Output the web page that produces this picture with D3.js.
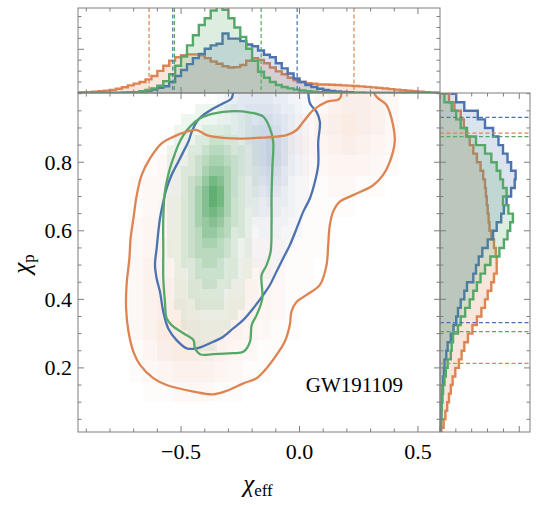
<!DOCTYPE html>
<html>
<head>
<meta charset="utf-8">
<script src="https://cdn.jsdelivr.net/npm/d3@7"></script>
<style>
  body { margin: 0; background: #fff; }
  text { font-family: "Liberation Serif", "Times New Roman", "DejaVu Serif", serif; fill: #000; }
</style>
</head>
<body>
<svg id="fig" width="540" height="505"></svg>
<script>
// axis limits and ticks
var xLim = [-0.935, 0.593];
var yLim = [0.013, 1.002];
var xMajor = [-0.5, 0.0, 0.5];
var xLabels = ["\u22120.5", "0.0", "0.5"];
var xMinor = [-0.9, -0.8, -0.7, -0.6, -0.4, -0.3, -0.2, -0.1, 0.1, 0.2, 0.3, 0.4];
var yMajor = [0.2, 0.4, 0.6, 0.8];
var yLabels = ["0.2", "0.4", "0.6", "0.8"];
var yMinor = [0.05, 0.1, 0.15, 0.25, 0.3, 0.35, 0.45, 0.5, 0.55, 0.65, 0.7, 0.75, 0.85, 0.9, 0.95, 1.0];
var topMajor = [0, 0.514];
var topMinor = [0.1285, 0.257, 0.3855, 0.6425, 0.771, 0.8995];
var rightMajor = [0, 0.881];
var rightMinor = [0.176, 0.352, 0.528, 0.705];

var colors = { blue: "#4C72B0", orange: "#DD8452", green: "#55A868" };

// chi_eff histograms (bins of 0.025 starting at -0.95), height as fraction of panel
var topBinStart = -0.95, topBinWidth = 0.025;
var orangeTop = [0.003,0.006,0.01,0.015,0.02,0.028,0.036,0.05,0.068,0.09,0.11,0.13,0.16,0.2,0.26,0.32,0.38,0.42,0.445,0.455,0.455,0.445,0.41,0.37,0.345,0.315,0.3,0.305,0.33,0.38,0.41,0.39,0.35,0.3,0.255,0.22,0.18,0.15,0.13,0.115,0.108,0.1,0.1,0.097,0.094,0.09,0.087,0.083,0.078,0.072,0.066,0.06,0.053,0.046,0.04,0.033,0.026,0.02,0.015,0.01,0.005,0.002];
var blueTop = [0,0,0,0,0,0,0,0.002,0.004,0.007,0.01,0.015,0.025,0.04,0.06,0.08,0.13,0.2,0.27,0.34,0.41,0.46,0.52,0.56,0.58,0.7,0.64,0.64,0.61,0.57,0.55,0.5,0.45,0.42,0.35,0.29,0.23,0.17,0.13,0.095,0.07,0.05,0.035,0.025,0.018,0.012,0.008,0.005,0.003,0,0,0,0,0,0,0,0,0,0,0,0,0];
var greenTop = [0,0,0,0,0,0,0,0,0.003,0.006,0.01,0.02,0.035,0.055,0.085,0.14,0.22,0.32,0.43,0.56,0.68,0.8,0.88,0.97,1.05,0.98,0.88,0.77,0.66,0.52,0.38,0.25,0.18,0.13,0.095,0.07,0.055,0.04,0.03,0.02,0.014,0.01,0.008,0.005,0.003,0,0,0,0,0,0,0,0,0,0,0,0,0,0,0,0,0];

// chi_p histograms (bins of 0.025 starting at 0)
var rightBinStart = 0, rightBinWidth = 0.025;
var orangeRight = [0.015,0.04,0.06,0.08,0.1,0.12,0.14,0.17,0.21,0.24,0.27,0.31,0.36,0.41,0.46,0.5,0.53,0.57,0.6,0.63,0.63,0.62,0.6,0.57,0.55,0.54,0.53,0.52,0.51,0.5,0.48,0.45,0.41,0.37,0.33,0.29,0.265,0.23,0.16,0.1,0.06];
var blueRight = [0.008,0.01,0.013,0.017,0.022,0.028,0.033,0.045,0.05,0.07,0.085,0.12,0.15,0.18,0.2,0.23,0.27,0.3,0.37,0.4,0.43,0.47,0.53,0.59,0.63,0.68,0.71,0.74,0.79,0.83,0.84,0.79,0.75,0.7,0.65,0.59,0.5,0.42,0.27,0.18,0.13];
var greenRight = [0.008,0.012,0.016,0.02,0.026,0.034,0.05,0.065,0.085,0.12,0.13,0.145,0.2,0.23,0.28,0.33,0.37,0.41,0.45,0.5,0.56,0.66,0.71,0.75,0.78,0.81,0.76,0.7,0.74,0.7,0.67,0.63,0.57,0.5,0.4,0.3,0.23,0.18,0.13,0.05,0.03];

// 90% interval bounds
var topQuant = { orange: [-0.635, 0.23], blue: [-0.535, -0.01], green: [-0.528, -0.162] };
var rightQuant = { orange: [0.213, 0.885], blue: [0.332, 0.931], green: [0.306, 0.875] };

// 2d density cells (level 0-9 per cell)
var greenCell = { x0: -0.59, top: 0.97, dx: 0.03, dy: 0.03, maxOp: 0.92 };
var greenRows = [
  "0000011111100000","0001111111111000","0011112222111100","0011122332211100",
  "0111223443221100","0111234554321100","0112235665321100","0112346875321100",
  "0112357985321100","0112357985321100","0112357875321100","0112356764321000",
  "0112346654221000","0112345543211000","0112344443211000","0012234432211000",
  "0011233332211000","0011223322110000","0011222221110000","0011122221110000",
  "0001111111100000","0001111111000000","0000111110000000","0000011100000000"];
var blueCell = { x0: -0.35, top: 1.0, dx: 0.03, dy: 0.03, maxOp: 0.36 };
var blueRows = [
  "12344444332210","12345555433210","11234566543210","01234577643210",
  "01124578753210","01123578753210","00123578753210","00123467643210",
  "00112456542110","00112345432110","00012234332110","00011233322100",
  "00011222221100","00011122211100","00001111111000","00001111110000",
  "00000111100000","00000011000000"];
var orangeCell = { x0: -0.78, top: 1.0, dx: 0.06, dy: 0.06, maxOp: 0.24 };
var orangeRows = [
  "00000000000000245542","00000000000012456542","00011111111123345432",
  "00122211111112233321","01222211111111122110","01233211111111111000",
  "02333211111111100000","02343211122211100000","02443211233211000000",
  "02454322343211000000","02455433443210000000","02466544432110000000",
  "01356654321100000000","01234443211000000000","00112221100000000000"];

// 90% contours [chi_eff, chi_p]
var greenContour = [[-0.42,0.928],[-0.364,0.942],[-0.28,0.949],[-0.209,0.945],[-0.153,0.933],[-0.125,0.899],[-0.111,0.86],[-0.114,0.792],[-0.118,0.704],[-0.118,0.617],[-0.122,0.539],[-0.139,0.5],[-0.16,0.471],[-0.157,0.403],[-0.181,0.354],[-0.202,0.325],[-0.209,0.277],[-0.237,0.247],[-0.28,0.243],[-0.364,0.24],[-0.42,0.24],[-0.441,0.257],[-0.448,0.281],[-0.49,0.301],[-0.54,0.325],[-0.561,0.345],[-0.568,0.393],[-0.575,0.461],[-0.575,0.539],[-0.575,0.636],[-0.568,0.714],[-0.547,0.782],[-0.533,0.811],[-0.512,0.85],[-0.49,0.879],[-0.462,0.904]];
var blueContour = [[-0.28,1.03],[-0.287,0.986],[-0.322,0.972],[-0.364,0.957],[-0.406,0.938],[-0.434,0.918],[-0.455,0.889],[-0.469,0.86],[-0.49,0.831],[-0.512,0.801],[-0.54,0.763],[-0.561,0.724],[-0.575,0.685],[-0.589,0.636],[-0.596,0.597],[-0.603,0.549],[-0.61,0.5],[-0.603,0.461],[-0.589,0.422],[-0.575,0.364],[-0.554,0.315],[-0.519,0.281],[-0.476,0.257],[-0.434,0.257],[-0.378,0.272],[-0.322,0.291],[-0.28,0.315],[-0.237,0.34],[-0.195,0.374],[-0.153,0.413],[-0.125,0.442],[-0.097,0.481],[-0.069,0.52],[-0.041,0.558],[-0.012,0.607],[0.016,0.656],[0.044,0.695],[0.065,0.743],[0.079,0.792],[0.079,0.86],[0.086,0.918],[0.072,0.947],[0.044,0.972],[0.037,1.03]];
var orangeContour = [[0.177,1.03],[0.17,0.986],[0.114,0.976],[0.058,0.952],[0.016,0.918],[-0.012,0.894],[-0.055,0.879],[-0.111,0.874],[-0.181,0.871],[-0.252,0.869],[-0.322,0.871],[-0.392,0.879],[-0.434,0.894],[-0.476,0.889],[-0.533,0.874],[-0.582,0.855],[-0.631,0.811],[-0.666,0.763],[-0.687,0.704],[-0.701,0.636],[-0.713,0.578],[-0.718,0.52],[-0.73,0.442],[-0.732,0.374],[-0.722,0.306],[-0.701,0.247],[-0.673,0.209],[-0.617,0.17],[-0.561,0.15],[-0.448,0.131],[-0.364,0.123],[-0.308,0.133],[-0.237,0.155],[-0.181,0.17],[-0.139,0.199],[-0.097,0.238],[-0.062,0.277],[-0.041,0.325],[-0.034,0.364],[-0.012,0.393],[0.03,0.413],[0.086,0.442],[0.114,0.5],[0.121,0.558],[0.128,0.617],[0.142,0.656],[0.17,0.685],[0.226,0.704],[0.311,0.733],[0.353,0.763],[0.381,0.801],[0.402,0.86],[0.395,0.908],[0.367,0.967],[0.325,0.991],[0.297,1.03]];

var eventName = "GW191109";

// layout
var L = 78, R = 440, T = 93, B = 432, topT = 8, rightR = 530;
var serif = "'Liberation Serif', 'Times New Roman', 'DejaVu Serif', serif";
var svg = d3.select("#fig");
var x = d3.scaleLinear().domain(xLim).range([L, R]);
var y = d3.scaleLinear().domain(yLim).range([B, T]);
var hTop = d3.scaleLinear().domain([0, 1]).range([T, topT]);
var hRight = d3.scaleLinear().domain([0, 1]).range([R, rightR]);

var defs = svg.append("defs");
function clip(id, x0, y0, w, h) {
  defs.append("clipPath").attr("id", id).append("rect")
    .attr("x", x0).attr("y", y0).attr("width", w).attr("height", h);
}
clip("cMain", L, T, R - L, B - T);
clip("cTop", L, topT, R - L, T - topT);
clip("cRight", R, T, rightR - R, B - T);

// ---- main panel
var main = svg.append("g").attr("clip-path", "url(#cMain)");

function drawCells(rows, cell, color) {
  var g = main.append("g").attr("shape-rendering", "crispEdges");
  rows.forEach(function(row, r) {
    row.split("").forEach(function(ch, c) {
      var lv = +ch;
      if (!lv) return;
      var x0 = Math.round(x(cell.x0 + c * cell.dx)), x1 = Math.round(x(cell.x0 + (c + 1) * cell.dx));
      var y0 = Math.round(y(cell.top - r * cell.dy)), y1 = Math.round(y(cell.top - (r + 1) * cell.dy));
      g.append("rect").attr("x", x0).attr("y", y0)
        .attr("width", x1 - x0).attr("height", y1 - y0)
        .attr("fill", color).attr("fill-opacity", cell.maxOp * lv / 9);
    });
  });
}
drawCells(orangeRows, orangeCell, colors.orange);
drawCells(blueRows, blueCell, colors.blue);
drawCells(greenRows, greenCell, colors.green);

var lineOpen = d3.line().x(d => x(d[0])).y(d => y(d[1])).curve(d3.curveCatmullRom);
var lineClosed = d3.line().x(d => x(d[0])).y(d => y(d[1])).curve(d3.curveCatmullRomClosed);
main.append("path").attr("d", lineOpen(blueContour)).attr("fill", "none")
  .attr("stroke", colors.blue).attr("stroke-width", 2.3);
main.append("path").attr("d", lineClosed(greenContour)).attr("fill", "none")
  .attr("stroke", colors.green).attr("stroke-width", 2.3);
main.append("path").attr("d", lineOpen(orangeContour)).attr("fill", "none")
  .attr("stroke", colors.orange).attr("stroke-width", 2.3);

svg.append("text").attr("x", 403).attr("y", 392).attr("text-anchor", "end")
  .style("font-family", serif).attr("font-size", 21).text(eventName);

// ---- top marginal
var topG = svg.append("g").attr("clip-path", "url(#cTop)");
function topPts(vals) {
  var pts = [[topBinStart, 0]];
  vals.forEach(function(v, i) {
    pts.push([topBinStart + i * topBinWidth, v]);
    pts.push([topBinStart + (i + 1) * topBinWidth, v]);
  });
  pts.push([topBinStart + vals.length * topBinWidth, 0]);
  return pts;
}
var topLine = d3.line().x(d => x(d[0])).y(d => hTop(d[1]));
[["orange", orangeTop], ["blue", blueTop], ["green", greenTop]].forEach(function(s) {
  var p = topLine(topPts(s[1]));
  topG.append("path").attr("d", p + "Z").attr("fill", colors[s[0]]).attr("fill-opacity", 0.2);
  topG.append("path").attr("d", p).attr("fill", "none").attr("stroke", colors[s[0]])
    .attr("stroke-width", 2.4);
});
["orange", "blue", "green"].forEach(function(k) {
  topQuant[k].forEach(function(v) {
    topG.append("line").attr("x1", x(v)).attr("x2", x(v)).attr("y1", topT).attr("y2", T)
      .attr("stroke", colors[k]).attr("stroke-width", 1.2).attr("stroke-dasharray", "4,2.5");
  });
});

// ---- right marginal
var rightG = svg.append("g").attr("clip-path", "url(#cRight)");
function rightPts(vals) {
  var pts = [[0, rightBinStart]];
  vals.forEach(function(v, i) {
    pts.push([v, rightBinStart + i * rightBinWidth]);
    pts.push([v, rightBinStart + (i + 1) * rightBinWidth]);
  });
  pts.push([0, rightBinStart + vals.length * rightBinWidth]);
  return pts;
}
var rightLine = d3.line().x(d => hRight(d[0])).y(d => y(d[1]));
[["orange", orangeRight], ["blue", blueRight], ["green", greenRight]].forEach(function(s) {
  var p = rightLine(rightPts(s[1]));
  rightG.append("path").attr("d", p + "Z").attr("fill", colors[s[0]]).attr("fill-opacity", 0.2);
  rightG.append("path").attr("d", p).attr("fill", "none").attr("stroke", colors[s[0]])
    .attr("stroke-width", 2.4);
});
["orange", "blue", "green"].forEach(function(k) {
  rightQuant[k].forEach(function(v) {
    rightG.append("line").attr("y1", y(v)).attr("y2", y(v)).attr("x1", R).attr("x2", rightR)
      .attr("stroke", colors[k]).attr("stroke-width", 1.2).attr("stroke-dasharray", "4,2.5");
  });
});

// ---- frames and ticks
var frameColor = "#7f7f7f";
var axG = svg.append("g").attr("stroke", frameColor).attr("stroke-width", 1).attr("fill", "none");
function frame(x0, y0, x1, y1) {
  axG.append("rect").attr("x", x0).attr("y", y0).attr("width", x1 - x0).attr("height", y1 - y0);
}
function vTicks(scale, vals, yPos, dir, len) {
  vals.forEach(function(v) {
    axG.append("line").attr("x1", scale(v)).attr("x2", scale(v))
      .attr("y1", yPos).attr("y2", yPos + dir * len);
  });
}
function hTicks(scale, vals, xPos, dir, len) {
  vals.forEach(function(v) {
    axG.append("line").attr("y1", scale(v)).attr("y2", scale(v))
      .attr("x1", xPos).attr("x2", xPos + dir * len);
  });
}
var MAJ = 6, MIN = 3.5;
frame(L, T, R, B);
frame(L, topT, R, T);
frame(R, T, rightR, B);
// main
vTicks(x, xMajor, B, -1, MAJ); vTicks(x, xMinor, B, -1, MIN);
vTicks(x, xMajor, T, 1, MAJ); vTicks(x, xMinor, T, 1, MIN);
hTicks(y, yMajor, L, 1, MAJ); hTicks(y, yMinor, L, 1, MIN);
hTicks(y, yMajor, R, -1, MAJ); hTicks(y, yMinor, R, -1, MIN);
// top marginal
vTicks(x, xMajor, topT, 1, MAJ); vTicks(x, xMinor, topT, 1, MIN);
vTicks(x, xMajor, T, -1, MAJ); vTicks(x, xMinor, T, -1, MIN);
hTicks(hTop, topMajor, L, 1, MAJ); hTicks(hTop, topMinor, L, 1, MIN);
hTicks(hTop, topMajor, R, -1, MAJ); hTicks(hTop, topMinor, R, -1, MIN);
// right marginal
hTicks(y, yMajor, R, 1, MAJ); hTicks(y, yMinor, R, 1, MIN);
hTicks(y, yMajor, rightR, -1, MAJ); hTicks(y, yMinor, rightR, -1, MIN);
vTicks(hRight, rightMajor, T, 1, MAJ); vTicks(hRight, rightMinor, T, 1, MIN);
vTicks(hRight, rightMajor, B, -1, MAJ); vTicks(hRight, rightMinor, B, -1, MIN);

// ---- labels
svg.append("g").selectAll("text").data(xMajor).join("text")
  .attr("x", d => x(d)).attr("y", 459).attr("text-anchor", "middle")
  .style("font-family", serif).attr("font-size", 22).text((d, i) => xLabels[i]);
svg.append("g").selectAll("text").data(yMajor).join("text")
  .attr("x", 72).attr("y", d => y(d) + 7.5).attr("text-anchor", "end")
  .style("font-family", serif).attr("font-size", 22).text((d, i) => yLabels[i]);

var xl = svg.append("text").attr("x", 258).attr("y", 492).attr("text-anchor", "middle")
  .style("font-family", serif);
xl.append("tspan").attr("font-size", 25).attr("font-style", "italic").text("\u03c7");
xl.append("tspan").attr("font-size", 17).attr("dy", 4).text("eff");

var yl = svg.append("text").attr("transform", "translate(30,264) rotate(-90)")
  .attr("text-anchor", "middle").style("font-family", serif);
yl.append("tspan").attr("font-size", 25).attr("font-style", "italic").text("\u03c7");
yl.append("tspan").attr("font-size", 17).attr("dy", 4).text("p");
</script>
</body>
</html>
